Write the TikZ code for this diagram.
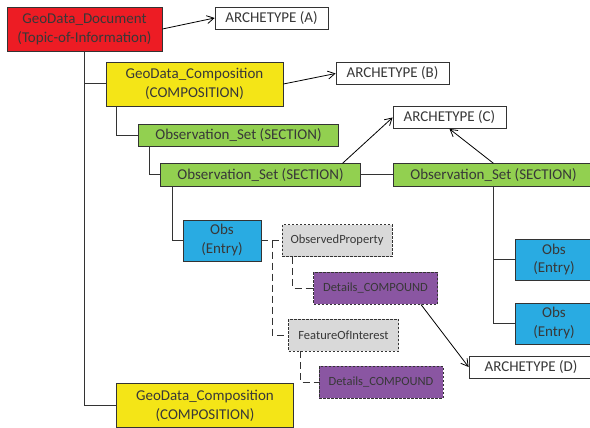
\documentclass[tikz,border=0pt]{standalone}
\usepackage{fontspec}
\setmainfont{Carlito}
\usepackage{tikz}
\usetikzlibrary{arrows.meta}

\definecolor{docred}{HTML}{ED1C24}
\definecolor{compyellow}{HTML}{F4E517}
\definecolor{setgreen}{HTML}{92D050}
\definecolor{obsblue}{HTML}{29ABE2}
\definecolor{propgray}{HTML}{D9D9D9}
\definecolor{detpurple}{HTML}{8A56A2}
\definecolor{linegray}{HTML}{333333}

\begin{document}
\begin{tikzpicture}[
    x=1pt, y=-1pt,
    box/.style={rectangle, draw=linegray, line width=0.8pt, inner sep=0pt, align=center,
        text=black!78, font=\fontsize{15}{19}\selectfont},
    smallbox/.style={box, dash pattern=on 2.5pt off 1.5pt, font=\fontsize{12.5}{15}\selectfont,
        minimum height=32pt},
    docbox/.style={box, fill=docred, minimum width=155pt, minimum height=44pt},
    compbox/.style={box, fill=compyellow, minimum width=177pt, minimum height=44pt},
    setbox/.style={box, fill=setgreen, minimum width=200pt, minimum height=22.5pt},
    obsbox/.style={box, fill=obsblue, minimum width=78pt, minimum height=41pt},
    archbox/.style={box, fill=white, minimum width=113pt, minimum height=22pt},
    propbox/.style={smallbox, fill=propgray, minimum width=110pt},
    detbox/.style={smallbox, fill=detpurple, minimum width=124pt},
    tree/.style={draw=linegray, line width=1pt},
    dashtree/.style={draw=linegray, line width=1pt, dash pattern=on 7pt off 4pt},
    link/.style={->, >={Straight Barb[angle=60:8pt]}, draw=black, line width=0.8pt}
    ]
        \clip (0,0) rectangle (590,428);

        %Nodes
        \node[docbox]
            (doc)       at (84.5,29)    {GeoData\_Document\\(Topic-of-Information)};
        \node[archbox]
            (archA)     at (271.5,18)   {ARCHETYPE (A)};
        \node[compbox]
            (compTop)   at (194.5,84)   {GeoData\_Composition\\(COMPOSITION)};
        \node[archbox]
            (archB)     at (392.5,73.5) {ARCHETYPE (B)};
        \node[setbox]
            (set1)      at (238.5,135.5) {Observation\_Set (SECTION)};
        \node[setbox]
            (set2)      at (260.5,175)  {Observation\_Set (SECTION)};
        \node[setbox]
            (set3)      at (493.5,175)  {Observation\_Set (SECTION)};
        \node[archbox]
            (archC)     at (449.5,117.5) {ARCHETYPE (C)};
        \node[obsbox]
            (obs1)      at (222,240.5)  {Obs\\(Entry)};
        \node[propbox]
            (obsProp)   at (337,240.5)  {ObservedProperty};
        \node[detbox]
            (det1)      at (375.5,288)  {Details\_COMPOUND};
        \node[propbox]
            (foi)       at (343.5,335)  {FeatureOfInterest};
        \node[detbox]
            (det2)      at (381,382)    {Details\_COMPOUND};
        \node[compbox]
            (compBot)   at (205,405.5)  {GeoData\_Composition\\(COMPOSITION)};
        \node[obsbox]
            (obs2)      at (554,259.5)  {Obs\\(Entry)};
        \node[obsbox]
            (obs3)      at (554,323.5)  {Obs\\(Entry)};
        \node[archbox, minimum width=124pt]
            (archD)     at (531,367)    {ARCHETYPE (D)};

        %Lines
        \draw[tree] (doc.south) |- (compTop.west);
        \draw[tree] (doc.south) |- (compBot.west);
        \draw[tree] ([xshift=11pt]compTop.south west) |- (set1.west);
        \draw[tree] ([xshift=11pt]set1.south west) |- (set2.west);
        \draw[tree] ([xshift=12pt]set2.south west) |- (obs1.west);
        \draw[tree] (set2.east) -- (set3.west);
        \draw[tree] (set3.south) |- (obs2.west);
        \draw[tree] (set3.south) |- (obs3.west);

        \draw[dashtree] (obs1.east) -- (obsProp.west);
        \draw[dashtree] (obs1.east) -- ++(11pt,0) |- (foi.west);
        \draw[dashtree] ([xshift=11pt]obsProp.south west) |- (det1.west);
        \draw[dashtree] ([xshift=12pt]foi.south west) |- (det2.west);

        \draw[link] (doc.east) -- (archA.west);
        \draw[link] (compTop.east) -- (archB.west);
        \draw[link] ([xshift=82pt]set2.north) -- (archC.west);
        \draw[link] (set3.north) -- (archC.south);
        \draw[link] ([xshift=-17pt]det1.south east) -- (archD.west);
    \end{tikzpicture}
\end{document}
